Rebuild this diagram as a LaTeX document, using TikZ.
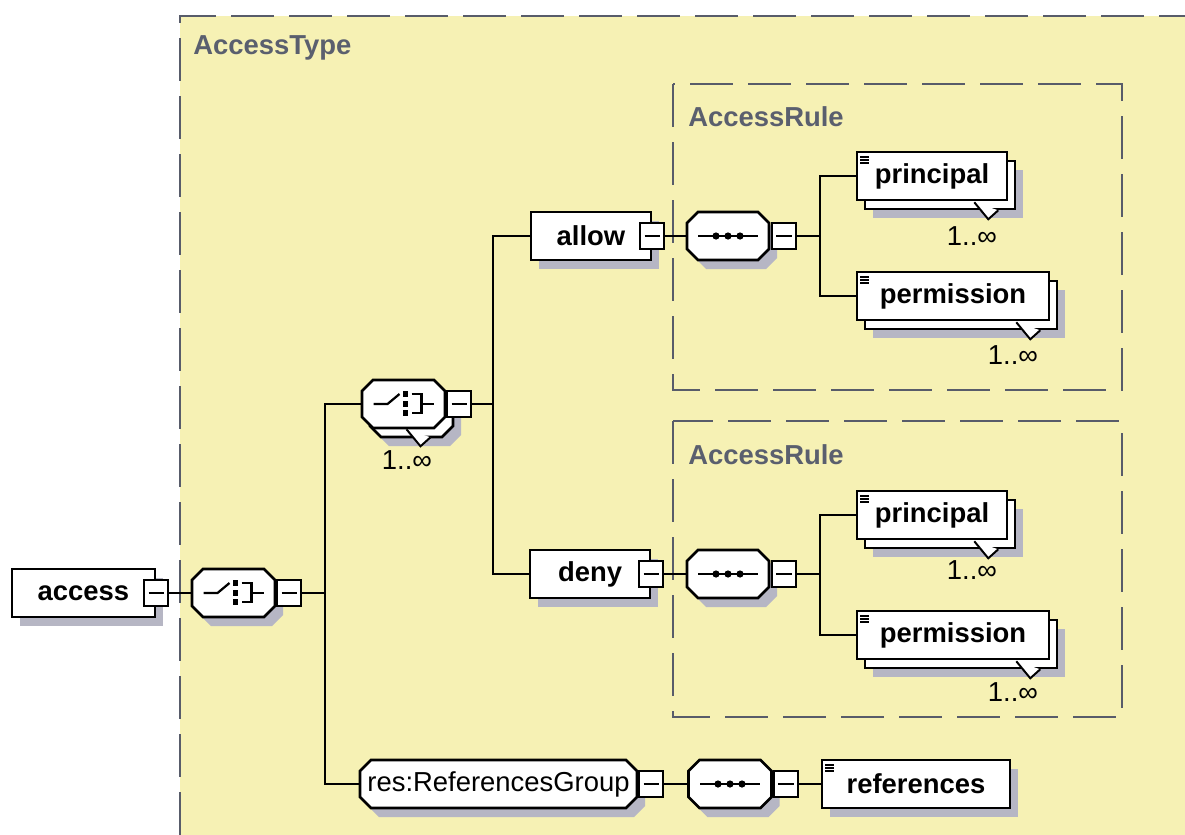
\documentclass[tikz,border=0pt]{standalone}
\usepackage{fontspec}
\setmainfont{Liberation Sans}
\usepackage{tikz}
\usetikzlibrary{positioning,shadows,calc}

\definecolor{typefill}{RGB}{246,241,180}
\definecolor{dashgray}{RGB}{88,92,106}
\definecolor{labelgray}{RGB}{90,95,110}
\definecolor{shadegray}{RGB}{182,182,196}

% outline of a compositor box, #1 = half width
\newcommand\octagonpath[1]{(-#1+11,-24) -- (#1-11,-24) -- (#1,-13) -- (#1,13) -- (#1-11,24) -- (-#1+11,24) -- (-#1,13) -- (-#1,-13) -- cycle}

% small symbols drawn inside the compositor boxes
\tikzset{
    pics/octagon/.style n args={2}{code={
        \ifnum#2>1
            \fill[shadegray, shift={(16,18)}] \octagonpath{#1};
            \filldraw[fill=white, line width=1.8pt, shift={(8,9)}] \octagonpath{#1};
        \else
            \fill[shadegray, shift={(8,9)}] \octagonpath{#1};
        \fi
        \filldraw[fill=white, line width=1.8pt] \octagonpath{#1};
    }},
    pics/seqicon/.style={code={
        \draw[line width=1.8pt] (-30,0) -- (30,0);
        \foreach \dx in {-12,0,12}
            \fill (\dx,0) circle (3.6);
    }},
    pics/choiceicon/.style={code={
        \draw[line width=1.6pt] (-30,0) -- (-16,0) -- (-4,-10);
        \foreach \dy in {-10,0,9}
            \fill (2,\dy) +(-2.6,-2.6) rectangle +(2.6,2.6);
        \draw[line width=1.6pt] (8,-10) -- (18,-10) -- (18,9) -- (8,9);
        \draw[line width=1.6pt] (18,0) -- (30,0);
    }},
    pics/notch/.style={code={
        \fill[white] (-14,-8) -- (10,0) -- (0,9) -- cycle;
        \draw[line width=1.4pt] (-14,-8) -- (0,9) -- (10,0);
    }}
}

\begin{document}
\begin{tikzpicture}[x=0.025cm, y=-0.025cm,
    element/.style={
        rectangle,
        draw=black,
        line width=1.8pt,
        fill=white,
        minimum height=1.2cm,
        inner sep=0pt,
        font=\bfseries\fontsize{19.5}{22}\selectfont
    },
    leaf/.style={
        element,
        path picture={
            \foreach \dy in {3.6pt,5.7pt,7.8pt}
                \draw[line width=0.9pt] ([xshift=2.2pt, yshift=-\dy]path picture bounding box.north west) -- ++(6pt,0);
        }
    },
    compositor/.style={
        rectangle,
        minimum width=2.075cm,
        minimum height=1.2cm,
        inner sep=0pt,
        font=\fontsize{19.5}{22}\selectfont
    },
    minus/.style={
        rectangle,
        draw=black,
        line width=1.5pt,
        fill=white,
        minimum width=0.6cm,
        minimum height=0.65cm,
        inner sep=0pt,
        path picture={
            \draw[line width=1.4pt] ([xshift=3pt]path picture bounding box.west) -- ([xshift=-3pt]path picture bounding box.east);
        }
    },
    single/.style={general shadow={draw=none, fill=shadegray, shadow xshift=0.2cm, shadow yshift=-0.225cm}},
    multi/.style={
        general shadow={draw=none, fill=shadegray, shadow xshift=0.4cm, shadow yshift=-0.45cm},
        general shadow={draw=black, fill=white, line width=1.8pt, shadow xshift=0.2cm, shadow yshift=-0.225cm}
    },
    occurs/.style={inner sep=0pt, font=\fontsize{19.5}{22}\selectfont},
    typelabel/.style={anchor=west, inner sep=0pt, text=labelgray, font=\bfseries\fontsize{19.5}{22}\selectfont},
    groupbox/.style={draw=dashgray, line width=2pt, dash pattern=on 1.075cm off 0.375cm},
    link/.style={draw=black, line width=1.8pt}]

    \useasboundingbox (0,0) rectangle (1185,835);

    % AccessType area
    \fill[typefill] (180,16) rectangle (1185,835);
    \draw[groupbox] (180,835) -- (180,16) -- (1185,16);
    \node[typelabel] (typename) at (193,48) {AccessType};

    % AccessRule groups
    \draw[groupbox] (673,84) rectangle (1122,390);
    \draw[groupbox] (673,421) rectangle (1122,717);
    \node[typelabel] (rule1name) at (688,117) {AccessRule};
    \node[typelabel] (rule2name) at (688,455) {AccessRule};

    % root element and outer choice
    \node[element, single, minimum width=3.575cm] (access) at (83.5,593) {access};
    \node[minus] (accessm) at (access.east) {};
    \pic at (233.5,593) {octagon={41.5}{1}};
    \node[compositor] (choice1) at (233.5,593) {};
    \pic at (choice1.center) {choiceicon};
    \node[minus, right=0.025cm of choice1] (choice1m) {};

    % repeated choice
    \pic at (403.5,404) {octagon={41.5}{2}};
    \node[compositor] (choice2) at (403.5,404) {};
    \pic at (choice2.center) {choiceicon};
    \pic at ($(choice2.south)+(17,9)$) {notch};
    \node[minus, right=0.025cm of choice2] (choice2m) {};
    \node[occurs] (occ0) at (407,460) {1..∞};

    % allow branch
    \node[element, single, minimum width=3cm] (allow) at (591,236) {allow};
    \node[minus] (allowm) at (allow.east) {};
    \pic at (728,236) {octagon={41}{1}};
    \node[compositor] (seq1) at (728,236) {};
    \pic at (seq1.center) {seqicon};
    \node[minus, right=0.025cm of seq1] (seq1m) {};
    \node[leaf, multi, minimum width=3.75cm] (prin1) at (932,176) {principal};
    \pic at ($(prin1.south east)+(-20,9)$) {notch};
    \node[occurs] (occ1) at (972,236) {1..∞};
    \node[leaf, multi, minimum width=4.8cm] (perm1) at (953,296) {permission};
    \pic at ($(perm1.south east)+(-20,9)$) {notch};
    \node[occurs] (occ2) at (1013,355) {1..∞};

    % deny branch
    \node[element, single, minimum width=3cm] (deny) at (590,574) {deny};
    \node[minus] (denym) at (deny.east) {};
    \pic at (728,574) {octagon={41}{1}};
    \node[compositor] (seq2) at (728,574) {};
    \pic at (seq2.center) {seqicon};
    \node[minus, right=0.025cm of seq2] (seq2m) {};
    \node[leaf, multi, minimum width=3.75cm] (prin2) at (932,515) {principal};
    \pic at ($(prin2.south east)+(-20,9)$) {notch};
    \node[occurs] (occ3) at (972,570) {1..∞};
    \node[leaf, multi, minimum width=4.8cm] (perm2) at (953,635) {permission};
    \pic at ($(perm2.south east)+(-20,9)$) {notch};
    \node[occurs] (occ4) at (1013,692) {1..∞};

    % references group
    \pic at (498.5,784) {octagon={138.5}{1}};
    \node[compositor, minimum width=6.925cm] (refgroup) at (498.5,784) {res:ReferencesGroup};
    \node[minus, right=0.025cm of refgroup] (refgroupm) {};
    \pic at (730,784) {octagon={41.5}{1}};
    \node[compositor] (seq3) at (730,784) {};
    \pic at (seq3.center) {seqicon};
    \node[minus, right=0.025cm of seq3] (seq3m) {};
    \node[leaf, single, minimum width=4.7cm] (refs) at (916,784) {references};

    % connectors
    \coordinate (bus1) at (325,593);
    \coordinate (bus2) at (493,404);
    \coordinate (bus3) at (820,236);
    \coordinate (bus4) at (820,574);
    \draw[link] (accessm.east) -- (choice1.west);
    \draw[link] (choice1m.east) -- (bus1);
    \draw[link] (choice2.west) -| (bus1) |- (refgroup.west);
    \draw[link] (choice2m.east) -- (bus2);
    \draw[link] (allow.west) -| (bus2) |- (deny.west);
    \draw[link] (allowm.east) -- (seq1.west);
    \draw[link] (seq1m.east) -- (bus3);
    \draw[link] (prin1.west) -| (bus3) |- (perm1.west);
    \draw[link] (denym.east) -- (seq2.west);
    \draw[link] (seq2m.east) -- (bus4);
    \draw[link] (prin2.west) -| (bus4) |- (perm2.west);
    \draw[link] (refgroupm.east) -- (seq3.west);
    \draw[link] (seq3m.east) -- (refs.west);
\end{tikzpicture}
\end{document}
